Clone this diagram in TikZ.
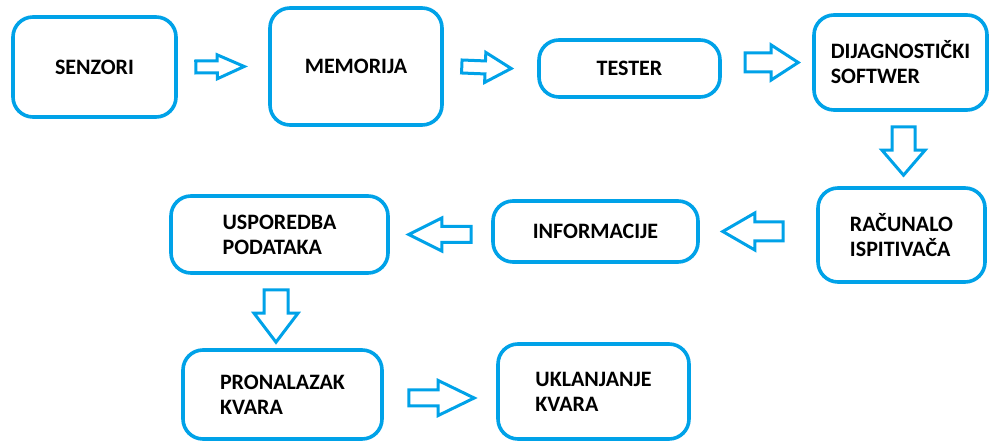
\documentclass[tikz,border=0pt]{standalone}
\usepackage{fontspec}
\setmainfont{Carlito}
\usepackage{tikz}
\usetikzlibrary{calc}
\definecolor{paintblue}{RGB}{0,162,232}

\tikzset{
  box/.style={draw=paintblue, line width=1.8pt, rounded corners=10pt, align=left, inner sep=0pt,
    font=\fontsize{11}{12.5}\selectfont\bfseries},
  % hollow block arrow: tip length, tip half width, stem half width
  blockarrow/.style n args={3}{draw=paintblue, line width=1.5pt, line join=miter,
    to path={let \p1=(\tikztostart), \p2=(\tikztotarget) in
      ($(\p1)!#3!90:(\p2)$)
      -- ($(\p2)!#1!(\p1)!#3!-90:(\p1)$)
      -- ($(\p2)!#1!(\p1)!#2!-90:(\p1)$)
      -- (\p2)
      -- ($(\p2)!#1!(\p1)!#2!90:(\p1)$)
      -- ($(\p2)!#1!(\p1)!#3!90:(\p1)$)
      -- ($(\p1)!#3!-90:(\p2)$) -- cycle}}
}

\begin{document}
\begin{tikzpicture}[x=0.5pt, y=-0.5pt]
	\useasboundingbox (0,0) rectangle (989,442);
	% first row
	\node[box, minimum width=81.5pt, minimum height=50pt] (senzori) at (94.5,67) {SENZORI};
	\node[box, minimum width=86pt, minimum height=58.5pt] (memorija) at (356,66.5) {MEMORIJA};
	\node[box, minimum width=90.5pt, minimum height=28.5pt] (tester) at (629.5,68.5) {TESTER};
	\node[box, minimum width=86.5pt, minimum height=47.5pt] (dijag) at (900.5,62.5) {DIJAGNOSTIČKI\\SOFTWER};
	% second row
	\node[box, minimum width=83.5pt, minimum height=47pt] (racunalo) at (901.5,235) {RAČUNALO\\ISPITIVAČA};
	\node[box, minimum width=102.5pt, minimum height=30.5pt] (info) at (595.5,231.5) {INFORMACIJE};
	\node[box, minimum width=108.5pt, minimum height=38.5pt] (usporedba) at (279.5,234.5) {USPOREDBA\\PODATAKA};
	% third row
	\node[box, minimum width=99.5pt, minimum height=44.5pt] (pronalazak) at (282.5,394.5) {PRONALAZAK\\KVARA};
	\node[box, minimum width=95.5pt, minimum height=47.5pt] (uklanjanje) at (593.5,391.5) {UKLANJANJE\\KVARA};

	\draw[blockarrow={13.5pt}{6pt}{3pt}] ([xshift=9pt]senzori.east) to ([xshift=-12pt]memorija.west);
	\draw[blockarrow={13pt}{7.5pt}{3.25pt}] ([xshift=9pt]memorija.east) to ([xshift=-13pt]tester.west);
	\draw[blockarrow={13.5pt}{8.75pt}{4.75pt}] ([xshift=-33.5pt]dijag.west) to ([xshift=-7pt]dijag.west);
	\draw[blockarrow={12.5pt}{10.75pt}{5.75pt}] ([xshift=1.5pt, yshift=-7.5pt]dijag.south) to ([yshift=5.5pt]racunalo.north -| {$(dijag.south)+(1.5pt,0)$});
	\draw[blockarrow={16pt}{9.25pt}{4.75pt}] ($(racunalo.west |- info.east)+(-16.5pt,0)$) to ([xshift=11.5pt]info.east);
	\draw[blockarrow={16.5pt}{8.25pt}{4pt}] ($(info.west |- usporedba.east)+(-10pt,0)$) to ([xshift=9.5pt]usporedba.east);
	\draw[blockarrow={14.5pt}{11pt}{6pt}] ([xshift=-1.75pt, yshift=-7.5pt]usporedba.south) to ($(pronalazak.north -| usporedba.south)+(-1.75pt,3pt)$);
	\draw[blockarrow={18pt}{8.75pt}{4pt}] ([xshift=12.5pt, yshift=-1.75pt]pronalazak.east) to ($(uklanjanje.west |- pronalazak.east)+(-11pt,-1.75pt)$);
\end{tikzpicture}
\end{document}
